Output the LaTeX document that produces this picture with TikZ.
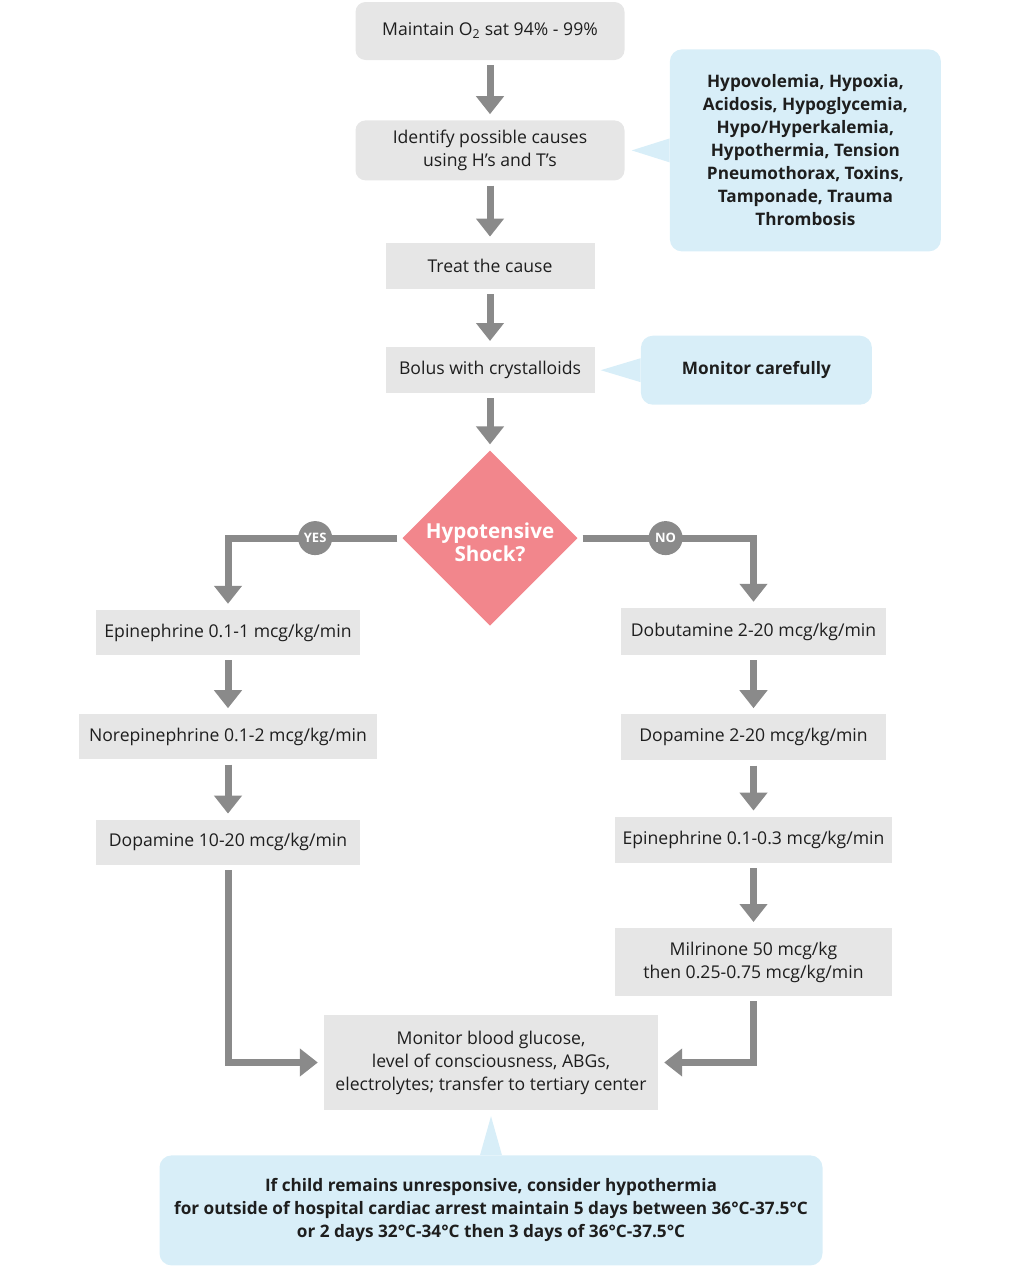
\documentclass[tikz,border=0pt]{standalone}
\usepackage{fontspec}
\setmainfont{Open Sans}
\usepackage{tikz}
\usetikzlibrary{positioning, shapes.geometric, arrows.meta}
\definecolor{boxgray}{HTML}{E6E6E6}
\definecolor{arrowgray}{HTML}{8A8A8A}
\definecolor{noteblue}{HTML}{D8EEF8}
\definecolor{shockred}{HTML}{F2868C}
\definecolor{inkdark}{HTML}{1E1E1E}
\tikzset{
	stage/.append style={
		fill=boxgray,
		text=inkdark,
		align = center,
		font={\fontsize{17.6}{23}\selectfont},
	},
	stageround/.append style={
		stage,
		rounded corners=10pt,
	},
	note/.append style={
		fill=noteblue,
		text=inkdark,
		align = center,
		rounded corners=12pt,
		font={\fontsize{17.2}{23}\selectfont\bfseries},
	},
	flow/.append style={
		draw=arrowgray,
		line width=7pt,
		-{Triangle[width=27pt,length=18pt]},
		shorten <=5pt,
		shorten >=6pt,
	},
	answer/.append style={
		circle,
		fill=arrowgray,
		text=white,
		inner sep=0pt,
		minimum size=34pt,
		font={\fontsize{13}{14}\selectfont\bfseries},
	}
}

\begin{document}
\begin{tikzpicture}[
	x=1pt, y=-1pt,
	shock/.style = {diamond, aspect=1, fill=shockred, text=white, inner sep=0pt, minimum size=175pt, font={\fontsize{20.6}{23}\selectfont\bfseries}}
	]
	\useasboundingbox (0,0) rectangle (1020,1266);
	% Main column
	\node[stageround, minimum width=269pt, minimum height=58pt] (maintain) at (490,31) {Maintain O\textsubscript{2} sat 94\% - 99\%};
	\node[stageround, minimum width=269pt, minimum height=60pt, below=60pt of maintain] (causes) {Identify possible causes\\using H’s and T’s};
	\node[stage, minimum width=209pt, minimum height=46pt, below=62pt of causes] (treat) {Treat the cause};
	\node[stage, minimum width=209pt, minimum height=46pt, below=58pt of treat] (bolus) {Bolus with crystalloids};
	\node[shock, below=57pt of bolus] (shock) {\raisebox{-12pt}[0pt][0pt]{\begin{tabular}{@{}c@{}}Hypotensive\\Shock?\end{tabular}}};
	
	% Notes
	\node[note, minimum width=271pt, minimum height=202pt, right=45pt of causes] (causesnote) {Hypovolemia, Hypoxia,\\Acidosis, Hypoglycemia,\\Hypo/Hyperkalemia,\\Hypothermia, Tension\\Pneumothorax, Toxins,\\Tamponade, Trauma\\Thrombosis};
	\node[note, minimum width=231pt, minimum height=69pt, right=46pt of bolus] (bolusnote) {Monitor carefully};
	\fill[noteblue] ([yshift=12pt]causesnote.west) -- ([xshift=7pt]causes.east) -- ([yshift=-12pt]causesnote.west) -- cycle;
	\fill[noteblue] ([yshift=12pt]bolusnote.west) -- ([xshift=6pt]bolus.east) -- ([yshift=-12pt]bolusnote.west) -- cycle;
	
	% Yes branch
	\node[stage, minimum width=264pt, minimum height=45pt] (epiL) at (228,632.5) {Epinephrine 0.1-1 mcg/kg/min};
	\node[stage, minimum width=298pt, minimum height=45pt, below=59pt of epiL] (noreL) {Norepinephrine 0.1-2 mcg/kg/min};
	\node[stage, minimum width=264pt, minimum height=45pt, below=60pt of noreL] (dopaL) {Dopamine 10-20 mcg/kg/min};
	
	% No branch
	\node[stage, minimum width=265pt, minimum height=47pt] (dobuR) at (753.5,631.5) {Dobutamine 2-20 mcg/kg/min};
	\node[stage, minimum width=265pt, minimum height=46pt, below=59pt of dobuR] (dopaR) {Dopamine 2-20 mcg/kg/min};
	\node[stage, minimum width=277pt, minimum height=46pt, below=56pt of dopaR] (epiR) {Epinephrine 0.1-0.3 mcg/kg/min};
	\node[stage, minimum width=277pt, minimum height=68pt, below=65pt of epiR] (milri) {Milrinone 50 mcg/kg\\then 0.25-0.75 mcg/kg/min};
	
	% Monitoring and hypothermia
	\node[stage, minimum width=334pt, minimum height=95pt] (monitor) at (491,1062.5) {Monitor blood glucose,\\level of consciousness, ABGs,\\electrolytes; transfer to tertiary center};
	\node[note, minimum width=663pt, minimum height=110pt, below=45pt of monitor] (hypothermia) {If child remains unresponsive, consider hypothermia\\for outside of hospital cardiac arrest maintain 5 days between 36°C-37.5°C\\or 2 days 32°C-34°C then 3 days of 36°C-37.5°C};
	\fill[noteblue] ([xshift=-11pt]hypothermia.north) -- ([yshift=-6pt]monitor.south) -- ([xshift=11pt]hypothermia.north) -- cycle;
	
	\draw[flow] (maintain) to (causes);
	\draw[flow] (causes) to (treat);
	\draw[flow] (treat) to (bolus);
	\draw[flow] (bolus) to (shock);
	
	\draw[flow] (shock.west) -| node[answer, pos=0.25]{YES} (epiL);
	\draw[flow] (shock.east) -| node[answer, pos=0.25]{NO} (dobuR);
	
	\draw[flow] (epiL) to (noreL);
	\draw[flow] (noreL) to (dopaL);
	\draw[flow] (dobuR) to (dopaR);
	\draw[flow] (dopaR) to (epiR);
	\draw[flow] (epiR) to (milri);
	
	\draw[flow] (dopaL) |- (monitor);
	\draw[flow] (milri) |- (monitor);
	
\end{tikzpicture}
\end{document}
